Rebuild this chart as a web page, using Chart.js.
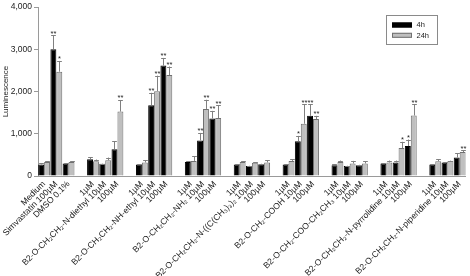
<!DOCTYPE html>
<html><head><meta charset="utf-8">
<script src="https://cdn.jsdelivr.net/npm/chart.js@4"></script>
<style>html,body{margin:0;padding:0;background:#fff}</style>
</head><body>
<canvas id="c" width="470" height="276"></canvas>
<script>
const categories = [
  'Medium', 'Simvastatin 100µM', 'DMSO 0.1%', '',
  '1µM', 'B2-O-CH₂CH₂-N-diethyl 10µM', '100µM', '',
  '1µM', 'B2-O-CH₂CH₂-NH-ethyl 10µM', '100µM', '',
  '1µM', 'B2-O-CH₂CH₂-NH₂ 10µM', '100µM', '',
  '1µM', 'B2-O-CH₂CH₂-N-((C(CH₃)₃)₂ 10µM', '100µM', '',
  '1µM', 'B2-O-CH₂-COOH 10µM', '100µM', '',
  '1µM', 'B2-O-CH₂-COO-CH₂CH₃ 10µM', '100µM', '',
  '1µM', 'B2-O-CH₂CH₂-N-pyrrolidine 10µM', '100µM', '',
  '1µM', 'B2-O-CH₂CH₂-N-piperidine 10µM', '100µM'
];
const seriesNames = ['4h', '24h'];
const values4h = [
  273, 3000, 296, null,
  397, 288, 631, null,
  273, 1675, 2616, null,
  334, 841, 1362, null,
  273, 234, 280, null,
  273, 825, 1425, null,
  257, 234, 257, null,
  296, 320, 709, null,
  273, 320, 437
];
const values24h = [
  334, 2470, 334, null,
  350, 374, 1526, null,
  320, 2009, 2390, null,
  358, 1588, 1371, null,
  334, 311, 320, null,
  358, 1238, 1348, null,
  334, 296, 296, null,
  320, 662, 1433, null,
  350, 358, 568
];
const errors4h = [
  25, 333, 10, null,
  47, 8, 194, null,
  8, 295, 180, null,
  10, 179, 180, null,
  10, 8, 10, null,
  8, 125, 273, null,
  20, 8, 8, null,
  10, 46, 155, null,
  8, 8, 100
];
const errors24h = [
  16, 255, 16, null,
  40, 63, 274, null,
  54, 367, 203, null,
  109, 218, 304, null,
  10, 10, 54, null,
  39, 460, 77, null,
  32, 62, 54, null,
  46, 148, 265, null,
  47, 8, 39
];
const signif4h = [
  '', '**', '', '',
  '', '', '', '',
  '', '**', '**', '',
  '', '**', '**', '',
  '', '', '', '',
  '', '*', '**', '',
  '', '', '', '',
  '', '', '*', '',
  '', '', ''
];
const signif24h = [
  '', '*', '', '',
  '', '', '**', '',
  '', '**', '**', '',
  '', '**', '**', '',
  '', '', '', '',
  '', '**', '**', '',
  '', '', '', '',
  '', '*', '**', '',
  '', '', '**'
];
const yTicks = [0, 1000, 2000, 3000, 4000];
const yTitle = 'Luminescence';

const FONT = "'Liberation Sans', Arial, sans-serif";
const errorsAll = [errors4h, errors24h];
const signifAll = [signif4h, signif24h];

const errPlugin = {
  id: 'errbars',
  afterDatasetsDraw(chart) {
    const ctx = chart.ctx;
    const ys = chart.scales.y;
    ctx.save();
    chart.data.datasets.forEach((ds, d) => {
      const meta = chart.getDatasetMeta(d);
      meta.data.forEach((el, i) => {
        const v = ds.data[i];
        if (v == null) return;
        const e = errorsAll[d][i] || 0;
        const yTop = ys.getPixelForValue(v + e);
        const x = Math.round(el.x) + 0.5;
        const w = el.width * 0.8;
        ctx.strokeStyle = '#808080';
        ctx.lineWidth = 1;
        ctx.beginPath();
        ctx.moveTo(x, el.y);
        ctx.lineTo(x, yTop);
        ctx.moveTo(x - w / 2, Math.round(yTop) + 0.5);
        ctx.lineTo(x + w / 2, Math.round(yTop) + 0.5);
        ctx.stroke();
        const s = signifAll[d][i];
        if (s) {
          ctx.fillStyle = '#222';
          ctx.font = '7.5px ' + FONT;
          ctx.textAlign = 'center';
          ctx.textBaseline = 'alphabetic';
          ctx.fillText(s, x, yTop + 0.5);
        }
      });
    });
    ctx.restore();
  }
};

const legendPlugin = {
  id: 'boxLegend',
  afterDraw(chart) {
    const ctx = chart.ctx;
    ctx.save();
    ctx.strokeStyle = '#8a8a8a';
    ctx.lineWidth = 1;
    ctx.strokeRect(386.5, 15.5, 51, 29);
    chart.data.datasets.forEach((ds, d) => {
      const y = 22.5 + d * 10.3;
      ctx.fillStyle = ds.backgroundColor;
      ctx.fillRect(392, y, 20, 5);
      ctx.strokeStyle = ds.borderColor;
      ctx.strokeRect(392.5, y + 0.5, 19, 4);
      ctx.fillStyle = '#222';
      ctx.font = '7.5px ' + FONT;
      ctx.textAlign = 'left';
      ctx.textBaseline = 'middle';
      ctx.fillText(ds.label, 416.5, y + 2.8);
    });
    ctx.restore();
  }
};

new Chart(document.getElementById('c'), {
  type: 'bar',
  data: {
    labels: categories,
    datasets: [
      { label: seriesNames[0], data: values4h, backgroundColor: '#000000', borderColor: '#000000', borderWidth: 1 },
      { label: seriesNames[1], data: values24h, backgroundColor: '#bfbfbf', borderColor: '#707070', borderWidth: 1 }
    ]
  },
  options: {
    responsive: false,
    animation: false,
    devicePixelRatio: 1,
    layout: { padding: { top: 5, right: 1, left: 0, bottom: 0 } },
    datasets: { bar: { categoryPercentage: 0.97, barPercentage: 1.0 } },
    plugins: { legend: { display: false }, tooltip: { enabled: false } },
    scales: {
      x: {
        grid: { display: false, drawTicks: false },
        border: { display: true, color: '#9a9a9a', width: 1 },
        ticks: {
          autoSkip: false, maxRotation: 45, minRotation: 45, padding: 3,
          color: '#222', font: { size: 8.6, family: FONT }
        },
        afterFit(scale) { scale.height = 100; }
      },
      y: {
        min: yTicks[0], max: yTicks[yTicks.length - 1],
        afterBuildTicks(scale) { scale.ticks = yTicks.map(v => ({ value: v })); },
        grid: { drawOnChartArea: false, drawTicks: true, tickLength: 4, color: '#9a9a9a' },
        border: { display: true, color: '#9a9a9a', width: 1 },
        ticks: { padding: 2, color: '#222', font: { size: 8.5, family: FONT } },
        title: { display: true, text: yTitle, color: '#222', font: { size: 8, family: FONT }, padding: { top: 1, bottom: 0 } },
        afterFit(scale) { scale.width = 38; }
      }
    }
  },
  plugins: [errPlugin, legendPlugin]
});
</script>
</body></html>
